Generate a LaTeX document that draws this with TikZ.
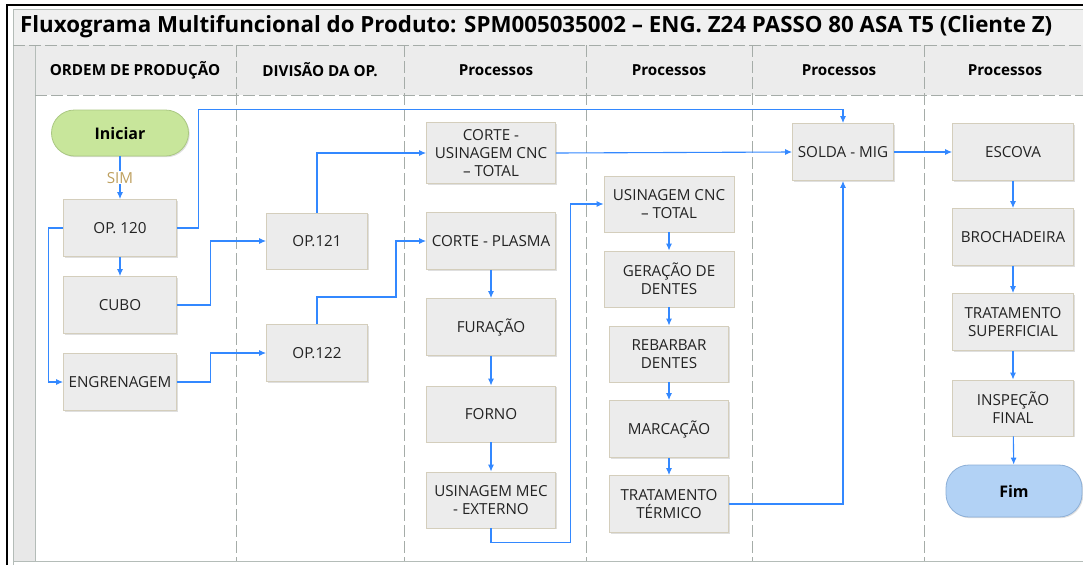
\documentclass[tikz,border=0pt]{standalone}
\usepackage{fontspec}
\setmainfont{Open Sans}
\usetikzlibrary{arrows.meta,calc,shadows}
\definecolor{lnblue}{RGB}{51,136,255}
\definecolor{boxfill}{RGB}{236,236,236}
\definecolor{boxdraw}{RGB}{212,206,188}
\definecolor{txt}{RGB}{35,35,35}
\definecolor{bandgray}{RGB}{240,240,240}
\definecolor{colgray}{RGB}{232,232,232}
\definecolor{hdrgray}{RGB}{236,236,236}
\definecolor{framegray}{RGB}{180,188,184}
\definecolor{divgray}{RGB}{165,172,168}
\definecolor{startgreen}{RGB}{200,230,155}
\definecolor{startdraw}{RGB}{170,200,130}
\definecolor{endblue}{RGB}{178,210,245}
\definecolor{enddraw}{RGB}{140,175,215}
\definecolor{simcol}{RGB}{190,160,95}
\begin{document}
\begin{tikzpicture}[x=1pt,y=-1pt,
  proc/.style={draw=boxdraw,fill=boxfill,line width=0.8pt,text=txt,align=center,
    font=\fontsize{15.2}{18}\selectfont,inner sep=2pt,
    drop shadow={shadow xshift=1.2pt,shadow yshift=-1.2pt,opacity=0.25}},
  term/.style={rounded corners=23pt,line width=0.8pt,text=black,
    font=\fontsize{16}{18}\selectfont\bfseries,
    drop shadow={shadow xshift=1.2pt,shadow yshift=-1.2pt,opacity=0.25}},
  arr/.style={draw=lnblue,line width=1.1pt,-{Latex[length=7pt,width=6pt]}},
  hdr/.style={font=\fontsize{15.2}{18}\selectfont\bfseries,text=black},
  lane/.style={draw=divgray,line width=0.9pt,dash pattern=on 12pt off 4pt}
]
\useasboundingbox (0,0) rectangle (1083,565);
% frame and bands
\fill[white] (0,0) rectangle (1083,565);
\fill[bandgray] (13,9) rectangle (1083,561);
\fill[white] (35,95) rectangle (1083,561);
\fill[colgray] (13,45) rectangle (35,561);
\fill[hdrgray] (35,45) rectangle (1083,95);
\draw[black,line width=1.5pt] (7,565) -- (7,5) -- (1083,5);
\draw[framegray,line width=0.8pt] (13,565) -- (13,9) -- (1083,9);
\draw[framegray,line width=0.8pt] (13,561) -- (1083,561);
\draw[framegray,line width=0.8pt] (35,45) -- (35,561);
\draw[lane] (13,45) -- (1083,45);
\draw[lane] (35,95) -- (1083,95);
\foreach \x in {236,404,586,752,924} \draw[lane] (\x,45) -- (\x,561);
% title and headers
\node[anchor=west,font=\fontsize{22.3}{26}\selectfont\bfseries,inner sep=0pt] (title) at (20,27)
  {Fluxograma Multifuncional do Produto: SPM005035002 – ENG. Z24 PASSO 80 ASA T5 (Cliente Z)};
\node[hdr] (h1) at (135,70) {ORDEM DE PRODUÇÃO};
\node[hdr] (h2) at (320,70) {DIVISÃO DA OP.};
\node[hdr] (h3) at (496,70) {Processos};
\node[hdr] (h4) at (669,70) {Processos};
\node[hdr] (h5) at (839,70) {Processos};
\node[hdr] (h6) at (1005,70) {Processos};
% nodes
\node[term,fill=startgreen,draw=startdraw,minimum width=137pt,minimum height=46pt] (ini) at (120,133) {Iniciar};
\node[proc,minimum width=113pt,minimum height=57pt] (op120) at (120,228) {OP. 120};
\node[proc,minimum width=113pt,minimum height=57pt] (cubo) at (120,305) {CUBO};
\node[proc,minimum width=113pt,minimum height=57pt] (eng) at (120,382) {ENGRENAGEM};
\node[proc,minimum width=101pt,minimum height=56pt] (op121) at (317,241) {OP.121};
\node[proc,minimum width=101pt,minimum height=57pt] (op122) at (317,353) {OP.122};
\node[proc,minimum width=129pt,minimum height=61pt] (cusi) at (491,153) {CORTE -\\USINAGEM CNC\\– TOTAL};
\node[proc,minimum width=129pt,minimum height=57pt] (plasma) at (491,241) {CORTE - PLASMA};
\node[proc,minimum width=129pt,minimum height=57pt] (fur) at (491,327) {FURAÇÃO};
\node[proc,minimum width=129pt,minimum height=56pt] (forno) at (491,414) {FORNO};
\node[proc,minimum width=129pt,minimum height=56pt] (umec) at (491,500) {USINAGEM MEC\\- EXTERNO};
\node[proc,minimum width=130pt,minimum height=56pt] (ucnc) at (669,204) {USINAGEM CNC\\– TOTAL};
\node[proc,minimum width=130pt,minimum height=56pt] (ger) at (669,279) {GERAÇÃO DE\\DENTES};
\node[proc,minimum width=119pt,minimum height=56pt] (reb) at (669,354) {REBARBAR\\DENTES};
\node[proc,minimum width=119pt,minimum height=57pt] (marc) at (669,429) {MARCAÇÃO};
\node[proc,minimum width=119pt,minimum height=57pt] (tterm) at (669,504) {TRATAMENTO\\TÉRMICO};
\node[proc,minimum width=101pt,minimum height=57pt] (solda) at (843,152) {SOLDA - MIG};
\node[proc,minimum width=121pt,minimum height=57pt] (esc) at (1013,152) {ESCOVA};
\node[proc,minimum width=121pt,minimum height=57pt] (broch) at (1013,237) {BROCHADEIRA};
\node[proc,minimum width=121pt,minimum height=57pt] (tsup) at (1013,322) {TRATAMENTO\\SUPERFICIAL};
\node[proc,minimum width=121pt,minimum height=56pt] (insp) at (1013,408) {INSPEÇÃO\\FINAL};
\node[term,fill=endblue,draw=enddraw,minimum width=136pt,minimum height=52pt] (fim) at (1014,491) {Fim};
% bend points
\coordinate (k1) at (396,297);
% connectors
\draw[arr] (ini) -- node[fill=white,text=simcol,font=\fontsize{15.2}{17}\selectfont,inner sep=1pt] {SIM} (op120);
\draw[arr] (op120) -- (cubo);
\draw[arr] (op120.west) -- ++(-15,0) |- (eng.west);
\draw[arr] (op120.east) -- ++(22,0) |- ($(solda.north)+(0,-14)$) -- (solda.north);
\draw[arr] (cubo.east) -- ++(34,0) |- (op121.west);
\draw[arr] (eng.east) -- ++(34,0) |- (op122.west);
\draw[arr] (op121.north) |- (cusi.west);
\draw[arr] (op122.north) |- (k1) |- (plasma.west);
\draw[arr] (plasma) -- (fur);
\draw[arr] (fur) -- (forno);
\draw[arr] (forno) -- (umec);
\draw[arr] (umec.south) -- ++(0,14) -| ($(ucnc.west)+(-33,0)$) -- (ucnc.west);
\draw[arr] (cusi.east) -- (solda.west);
\draw[arr] (ucnc) -- (ger);
\draw[arr] (ger) -- (reb);
\draw[arr] (reb) -- (marc);
\draw[arr] (marc) -- (tterm);
\draw[arr] (tterm.east) -| (solda.south);
\draw[arr] (solda) -- (esc);
\draw[arr] (esc) -- (broch);
\draw[arr] (broch) -- (tsup);
\draw[arr] (tsup) -- (insp);
\draw[arr] (insp) -- (fim);
\end{tikzpicture}
\end{document}
